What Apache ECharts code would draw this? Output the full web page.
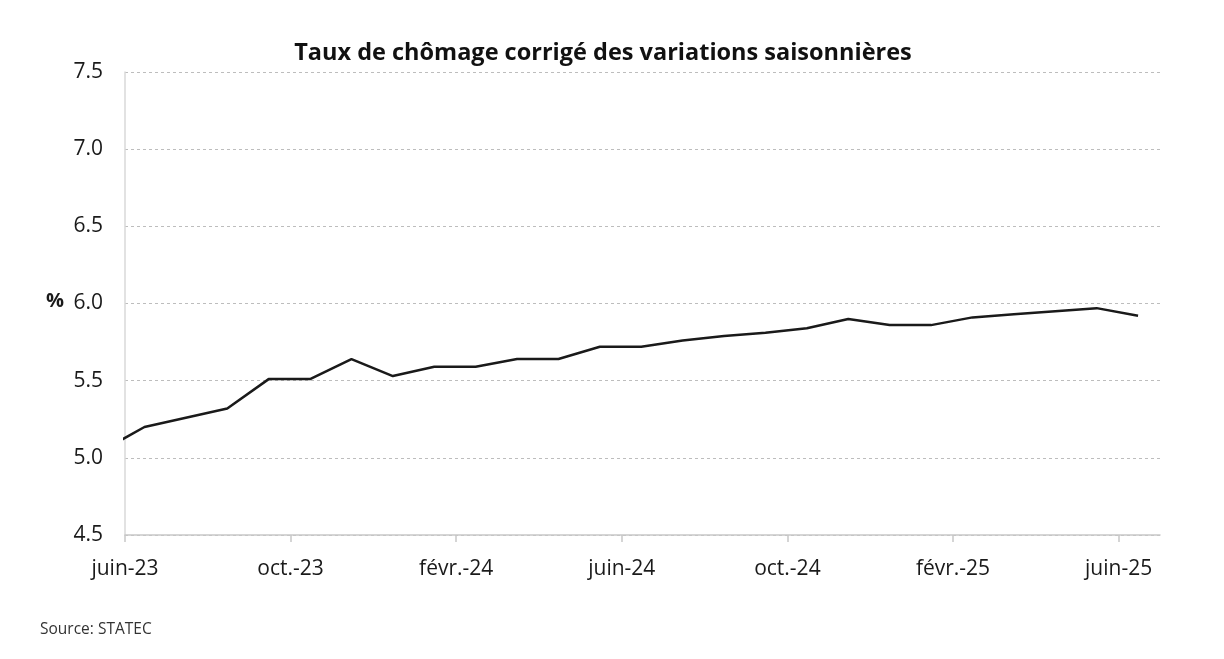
<!DOCTYPE html>
<html><head><meta charset="utf-8">
<script src="https://cdn.jsdelivr.net/npm/echarts@6/dist/echarts.min.js"></script>
<style>html,body{margin:0;padding:0;background:#fff}#c{width:1224px;height:659px}</style>
</head><body><div id="c"></div>
<script>
// Months (first entry is the month before the axis start; its segment is clipped)
const months = ['mai-23','juin-23','juil.-23','août-23','sept.-23','oct.-23','nov.-23','déc.-23',
  'janv.-24','févr.-24','mars-24','avr.-24','mai-24','juin-24','juil.-24','août-24','sept.-24','oct.-24','nov.-24','déc.-24',
  'janv.-25','févr.-25','mars-25','avr.-25','mai-25','juin-25'];
const rates = [5.05,5.20,5.26,5.32,5.51,5.51,5.64,5.53,5.59,5.59,5.64,5.64,5.72,5.72,5.76,5.79,5.81,5.84,5.90,5.86,5.86,5.91,5.93,5.95,5.97,5.92];
const tickLabels = ['juin-23','oct.-23','févr.-24','juin-24','oct.-24','févr.-25','juin-25'];
const yTicks = [4.5,5.0,5.5,6.0,6.5,7.0,7.5];

// month index relative to juin-23 (=0); observations plotted mid-month
const MID = 0.47;
const data = rates.map((v,i)=>[(i-1)+MID, v]);
const tickPos = tickLabels.map((_,i)=>i*4);

const chart = echarts.init(document.getElementById('c'));
const FONT = 'Open Sans';
chart.setOption({
  animation:false,
  title:{text:'Taux de chômage corrigé des variations saisonnières',left:598,top:36,textAlign:'center',
    textStyle:{fontFamily:FONT,fontWeight:'bold',fontSize:23.5,color:'#111'}},
  grid:{left:125,right:64,top:72,bottom:124,containLabel:false},
  xAxis:{type:'value',min:0,max:25,interval:4,
    axisLine:{show:true,lineStyle:{color:'#c8c8c8',width:1.5}},
    axisTick:{show:true,length:7,lineStyle:{color:'#c8c8c8',width:1.5},customValues:tickPos},
    axisLabel:{customValues:tickPos,margin:24,fontFamily:FONT,fontSize:21,color:'#1a1a1a',
      formatter:v=>tickLabels[Math.round(v/4)]||''},
    splitLine:{show:false}},
  yAxis:{type:'value',min:4.5,max:7.5,interval:0.5,
    axisLine:{show:true,lineStyle:{color:'#d9d9d9',width:1.5}},
    axisTick:{show:false},
    axisLabel:{margin:22,fontFamily:FONT,fontSize:21,color:'#1a1a1a',formatter:v=>v.toFixed(1)},
    splitLine:{show:true,lineStyle:{color:'#bdbdbd',type:[3,3],width:1}}},
  series:[{type:'line',data:data,showSymbol:false,clip:true,
    lineStyle:{color:'#1a1a1a',width:2.5},z:5}],
  graphic:[
    {type:'text',left:46,top:291,style:{text:'%',fontFamily:FONT,fontSize:20,fontWeight:'bold',fill:'#1a1a1a'}},
    {type:'text',left:40,top:622,style:{text:'Source: STATEC',fontFamily:FONT,fontSize:15.5,fill:'#333'}}
  ]
});
</script></body></html>
